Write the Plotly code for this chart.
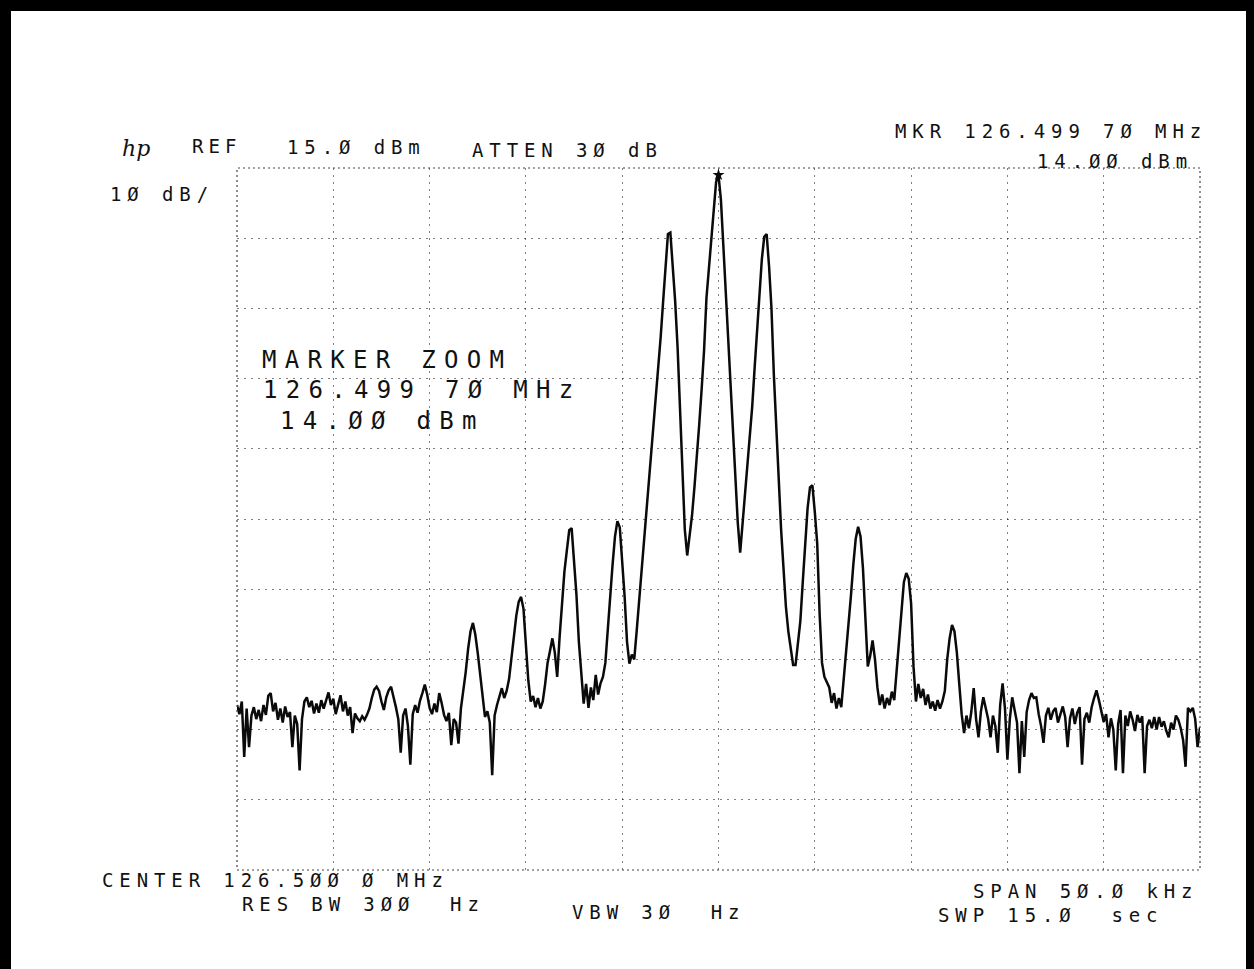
import numpy as np
import plotly.graph_objects as go

# ---------------- data ----------------
CENTER_MHZ = 126.5
SPAN_KHZ = 50.0
N_POINTS = 401
REF_DBM = 15.0
DB_PER_DIV = 10.0
N_DIV = 10

level_dbm = [
    -61.5, -62.8, -61.0, -68.9, -62.0, -67.5, -63.0, -61.8, -63.5, -62.2,
    -63.8, -61.5, -62.9, -60.2, -59.8, -62.4, -61.2, -63.6, -62.0, -64.0,
    -61.7, -63.2, -62.5, -67.5, -63.0, -64.2, -70.8, -63.5, -61.0, -60.4,
    -61.8, -60.9, -62.7, -61.3, -62.6, -60.8, -62.0, -61.0, -59.7, -61.5,
    -60.6, -62.8, -61.2, -60.1, -62.4, -61.0, -63.0, -61.8, -65.5, -62.7,
    -63.4, -63.8, -63.1, -63.6, -62.9, -62.0, -60.5, -59.3, -58.9, -59.5,
    -61.0, -62.2, -60.4, -59.4, -58.9, -60.2, -61.8, -63.5, -68.3, -63.0,
    -62.0, -64.5, -70.0, -62.8, -61.5, -62.6, -60.9, -59.8, -58.6, -60.0,
    -61.9, -62.8, -61.3, -62.5, -59.8, -61.2, -62.9, -63.8, -62.6, -67.2,
    -63.5, -64.0, -67.0, -62.0, -59.5, -56.8, -53.5, -51.0, -49.8, -51.5,
    -54.1, -57.0, -60.0, -63.2, -62.4, -64.0, -71.5, -63.0, -61.5, -60.2,
    -59.1, -60.5, -59.5, -57.8, -55.0, -51.5, -48.8, -46.8, -46.1, -47.8,
    -52.5, -58.0, -61.0, -60.2, -61.8, -60.5, -62.0, -61.0, -58.5, -55.5,
    -53.8, -52.0, -54.0, -57.5, -51.8, -46.5, -42.5, -39.5, -36.6, -36.3,
    -40.5, -45.8, -52.5, -57.5, -61.3, -58.5, -61.9, -59.0, -60.8, -57.2,
    -60.0, -58.4, -57.5, -55.5, -50.5, -46.5, -41.5, -37.5, -35.3, -36.2,
    -41.0, -46.0, -52.5, -55.6, -54.3, -55.0, -51.0, -46.8, -42.5, -39.0,
    -34.5, -30.5, -26.8, -22.5, -18.0, -13.5, -9.0, -4.0, 1.5, 5.6,
    5.8, 1.5, -4.0, -10.5, -20.0, -29.5, -36.5, -40.2, -37.5, -34.5,
    -30.5, -26.6, -21.5, -16.5, -11.0, -3.5, 0.5, 5.0, 9.5, 13.0,
    14.0, 10.5, 4.0, -2.3, -9.5, -16.5, -23.0, -29.5, -35.5, -39.8,
    -35.5, -31.5, -27.5, -23.7, -19.0, -13.5, -8.0, -3.0, 2.0, 5.2,
    5.6, 1.0, -5.0, -14.5, -22.5, -30.5, -36.5, -42.0, -47.5, -51.0,
    -53.8, -55.8, -55.8, -52.5, -49.5, -44.0, -38.5, -33.5, -30.5, -30.2,
    -34.0, -38.5, -48.5, -55.5, -57.5, -58.2, -59.0, -61.2, -59.8, -62.0,
    -60.5, -61.8, -58.0, -54.5, -50.0, -46.0, -41.5, -37.8, -36.1, -37.5,
    -42.0, -49.0, -56.0, -54.5, -52.3, -55.0, -59.0, -61.5, -60.0, -62.0,
    -60.5, -61.5, -59.6, -60.8, -56.5, -53.0, -48.0, -44.0, -42.7, -43.5,
    -47.0, -56.0, -61.0, -58.5, -60.5, -59.2, -61.5, -60.0, -62.0, -61.0,
    -62.3, -60.8, -62.0, -61.0, -59.5, -55.0, -52.0, -50.1, -51.0, -54.0,
    -58.5, -62.8, -65.5, -63.0, -64.8, -62.5, -59.1, -63.5, -66.1, -62.4,
    -60.4, -61.8, -63.5, -66.1, -63.0, -64.5, -68.3, -61.5, -58.4, -62.0,
    -69.3, -63.5, -60.4, -62.2, -64.0, -71.2, -63.8, -68.9, -62.5, -60.8,
    -59.8, -60.5, -60.4, -62.8, -64.5, -66.9, -63.0, -61.9, -63.6, -62.4,
    -61.9, -64.0, -62.8, -61.7, -63.2, -67.5, -63.4, -62.0, -64.2, -62.6,
    -61.8, -70.0, -63.5, -62.6, -64.0, -61.8, -60.5, -59.4, -60.8, -62.6,
    -63.9, -62.8, -66.1, -63.4, -65.0, -70.8, -64.2, -62.2, -71.2, -63.0,
    -64.5, -62.4, -63.6, -65.2, -62.9, -64.0, -63.1, -71.2, -64.5, -63.6,
    -64.8, -63.2, -65.0, -63.2, -64.6, -63.8, -65.2, -66.1, -64.0, -65.0,
    -63.0, -63.6, -64.8, -66.5, -70.3, -61.9, -62.4, -61.9, -63.5, -67.5,
    -64.7,
]

header_texts = ["REF", "15.Ø dBm", "ATTEN 3Ø dB", "MKR 126.499 7Ø MHz", "14.ØØ dBm", "1Ø dB/"]
zoom_texts = ["MARKER ZOOM", "126.499 7Ø MHz", "14.ØØ dBm"]
footer_texts = ["CENTER 126.5ØØ Ø MHz", "RES BW 3ØØ\u00a0 Hz", "VBW 3Ø\u00a0 Hz",
                "SPAN 5Ø.Ø kHz", "SWP 15.Ø\u00a0 sec"]

# ---------------- figure geometry ----------------
W, H = 1254, 969
PL, PR, PT, PB = 237, 1200, 168, 870  # plot area in pixels


def px2paper(x, y):
    return (x - PL) / (PR - PL), (PB - y) / (PB - PT)


freq_khz = np.linspace(-SPAN_KHZ / 2, SPAN_KHZ / 2, N_POINTS)
levels = np.array(level_dbm)

fig = go.Figure()
fig.add_trace(go.Scatter(x=freq_khz, y=levels, mode="lines",
                         line=dict(color="#0a0a0a", width=2.5), hoverinfo="skip",
                         showlegend=False))
imax = int(np.argmax(levels))
fig.add_trace(go.Scatter(x=[freq_khz[imax]], y=[levels[imax]], mode="markers",
                         marker=dict(symbol="star", size=9, color="#0a0a0a"),
                         showlegend=False, hoverinfo="skip"))

FONT = "DejaVu Sans Mono"
annotations = []


def add_text(t, x_left, y_mid, size, spacing):
    px_, py_ = px2paper(x_left, y_mid)
    annotations.append(dict(
        text=f'<span style="letter-spacing:{spacing}px">{t}</span>',
        x=px_, y=py_, xref="paper", yref="paper", xanchor="left", yanchor="middle",
        showarrow=False, font=dict(family=FONT, size=size, color="#111111")))


# header
add_text(header_texts[0], 190, 146, 19, 5.0)
add_text(header_texts[1], 285, 147, 19, 5.9)
add_text(header_texts[2], 470, 150, 19, 5.9)
add_text(header_texts[3], 893, 131, 19, 5.9)
add_text(header_texts[4], 1035, 161, 19, 5.9)
add_text(header_texts[5], 108, 194, 19, 5.9)
# marker zoom block
add_text(zoom_texts[0], 260, 360, 24, 8.3)
add_text(zoom_texts[1], 261, 390, 24, 8.3)
add_text(zoom_texts[2], 278, 421, 24, 8.3)
# footer
add_text(footer_texts[0], 100, 880, 19, 5.9)
add_text(footer_texts[1], 240, 904, 19, 5.9)
add_text(footer_texts[2], 570, 912, 19, 5.9)
add_text(footer_texts[3], 971, 891, 19, 5.9)
add_text(footer_texts[4], 936, 915, 19, 5.9)

# hp logo
lx, ly = px2paper(120, 148)
annotations.append(dict(text="<i>hp</i>", x=lx, y=ly, xref="paper", yref="paper",
                        xanchor="left", yanchor="middle", showarrow=False,
                        font=dict(family="DejaVu Serif", size=22, color="#111111")))

shapes = []
# dotted graticule frame
shapes.append(dict(type="rect", xref="paper", yref="paper", x0=0, x1=1, y0=0, y1=1,
                   line=dict(color="#444444", width=1.2, dash="2px,3px")))
# black scan border (top, left, right)
for (x0, y0, x1, y1) in [(0, 0, W, 11), (0, 0, 11, H), (W - 8, 0, W, H)]:
    a0, b0 = px2paper(x0, y0)
    a1, b1 = px2paper(x1, y1)
    shapes.append(dict(type="rect", xref="paper", yref="paper", x0=a0, x1=a1, y0=b1, y1=b0,
                       fillcolor="black", line=dict(width=0), layer="above"))

fig.update_layout(
    width=W, height=H,
    margin=dict(l=PL, r=W - PR, t=PT, b=H - PB, pad=0),
    paper_bgcolor="white", plot_bgcolor="white",
    annotations=annotations, shapes=shapes,
    xaxis=dict(range=[-SPAN_KHZ / 2, SPAN_KHZ / 2], dtick=SPAN_KHZ / N_DIV, tick0=0,
               showticklabels=False, ticks="", zeroline=False, showline=False,
               showgrid=True, gridcolor="rgba(0,0,0,0.5)", gridwidth=1, griddash="2px,5px"),
    yaxis=dict(range=[REF_DBM - N_DIV * DB_PER_DIV, REF_DBM], dtick=DB_PER_DIV, tick0=REF_DBM,
               showticklabels=False, ticks="", zeroline=False, showline=False,
               showgrid=True, gridcolor="rgba(0,0,0,0.5)", gridwidth=1, griddash="2px,5px"),
)

fig.write_html("out.html", config={"displayModeBar": False},
               post_script="document.body.style.margin='0px';document.body.style.overflow='hidden';")
